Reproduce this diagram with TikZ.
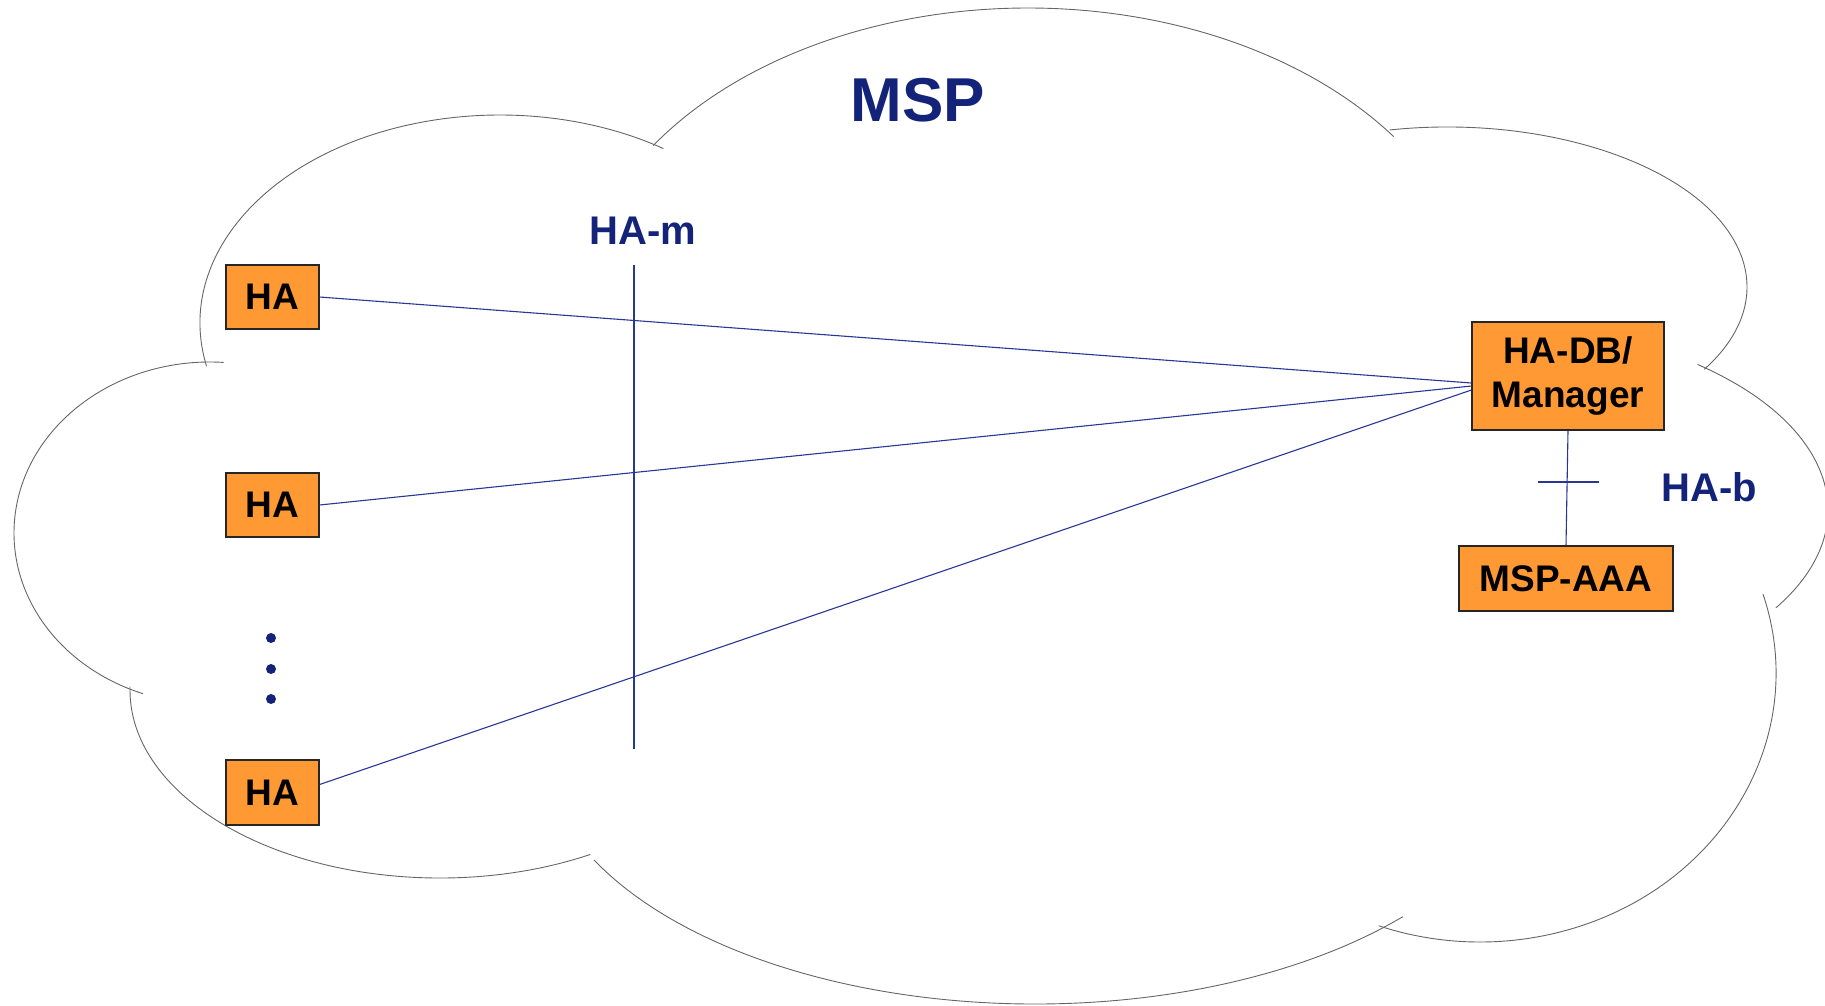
\documentclass[tikz,border=0pt]{standalone}
\usepackage{fontspec}
\setmainfont{Liberation Sans}
\definecolor{navy}{RGB}{20,35,122}
\definecolor{connblue}{RGB}{40,55,150}
\definecolor{boxorange}{RGB}{255,153,51}
\newcommand\cloudlobe[6]{\draw[cloudline] (#1,#2) ++(#5:#3 and #4) arc[start angle=#5,end angle=#6,x radius=#3,y radius=#4];}
\begin{document}
\begin{tikzpicture}[x=1pt,y=-1pt,
  cloudline/.style={draw=black!60,line width=0.9pt},
  conn/.style={draw=connblue,line width=1.1pt},
  orangebox/.style={draw=black!85,fill=boxorange,line width=1.2pt,inner sep=0pt,align=center,
    font=\fontsize{37}{44}\selectfont\bfseries},
  lbl/.style={text=navy,inner sep=0pt,font=\fontsize{40}{48}\selectfont\bfseries}]
\useasboundingbox (0,0) rectangle (1825,1005);

% cloud lobes (elliptical arcs, image coordinates)
\cloudlobe{500}{323}{300}{208}{168}{303}
\cloudlobe{1028}{320}{452}{312}{214}{324}
\cloudlobe{1447}{287}{300}{160}{259}{391}
\cloudlobe{1463}{510}{365}{190}{-50}{31}
\cloudlobe{1480}{673}{296}{269}{-17}{110}
\cloudlobe{1035}{740}{495}{264}{42}{153}
\cloudlobe{440}{690}{310}{188}{181}{61}
\cloudlobe{210}{533}{196}{171}{274}{110}

% labels
\node[lbl,font=\fontsize{62}{70}\selectfont\bfseries] (msp) at (918,100) {MSP};
\node[lbl] (ham) at (643,231) {HA-m};
\node[lbl] (hab) at (1709,487) {HA-b};

% nodes
\node[orangebox,minimum width=93pt,minimum height=64pt] (ha1) at (272.5,297) {HA};
\node[orangebox,minimum width=93pt,minimum height=64pt] (ha2) at (272.5,505) {HA};
\node[orangebox,minimum width=93pt,minimum height=65pt] (ha3) at (272.5,792.5) {HA};
\node[orangebox,minimum width=192pt,minimum height=108pt] (db) at (1568,376) {HA-DB/\\Manager};
\node[orangebox,minimum width=214pt,minimum height=65pt] (aaa) at (1566,578.5) {MSP-AAA};

% dots
\fill[navy] (271,638) circle (5pt) (271,669) circle (5pt) (271,699) circle (5pt);

% HA-m reference line
\coordinate (hamtop) at (634,265);
\coordinate (hambot) at (634,749);
\draw[conn] (hamtop) -- (hambot);

% connectors
\draw[conn] (ha1.east) -- ([yshift=-7pt]db.west);
\draw[conn] (ha2.east) -- ([yshift=-10pt]db.west);
\draw[conn] ([yshift=8pt]ha3.east) -- ([yshift=-14pt]db.west);
\draw[conn] (db.south) -- (aaa.north);
\coordinate (tick) at (1568,482);
\draw[conn] ([xshift=-30pt]tick) -- ([xshift=31pt]tick);
\end{tikzpicture}
\end{document}
